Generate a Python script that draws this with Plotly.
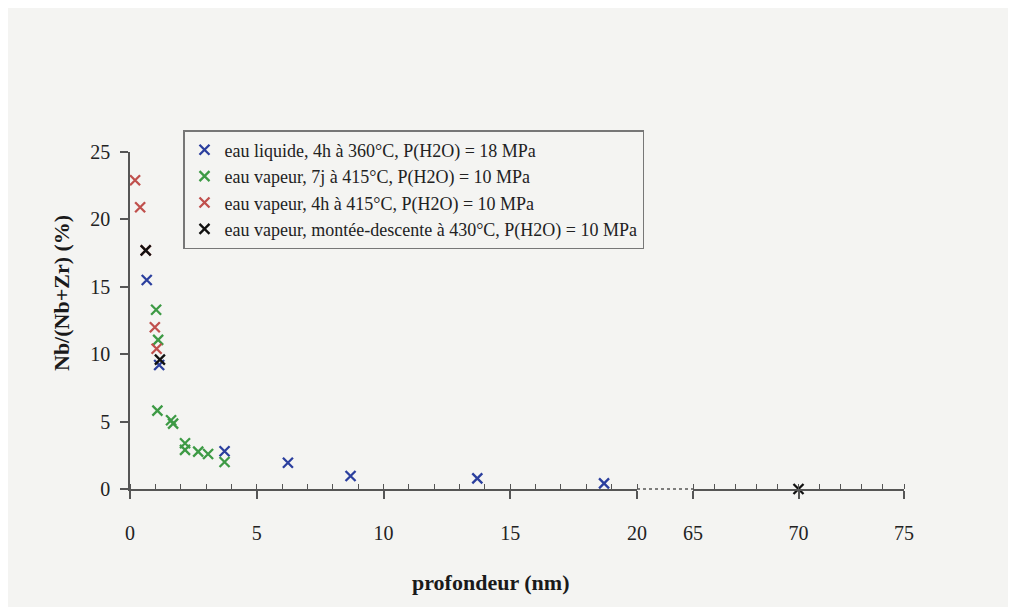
import plotly.graph_objects as go

# ---- data ----
blue_x = [0.66, 1.15, 3.73, 6.23, 8.7, 13.7, 18.7]
blue_y = [15.5, 9.2, 2.8, 1.95, 0.96, 0.79, 0.42]

green_x = [1.03, 1.11, 1.08, 1.62, 1.70, 2.17, 2.17, 2.69, 3.08, 3.73]
green_y = [13.3, 11.06, 5.81, 5.1, 4.85, 3.39, 2.9, 2.77, 2.6, 2.0]

red_x = [0.2, 0.4, 0.62, 0.98, 1.05]
red_y = [22.9, 20.9, 17.7, 12.0, 10.4]

black_x = [0.62, 1.18]
black_y = [17.7, 9.6]
black_far_x = [70]
black_far_y = [0.0]

labels = [
    "eau liquide, 4h à 360°C, P(H2O) = 18 MPa",
    "eau vapeur, 7j à 415°C, P(H2O) = 10 MPa",
    "eau vapeur, 4h à 415°C, P(H2O) = 10 MPa",
    "eau vapeur, montée-descente à 430°C, P(H2O) = 10 MPa",
]
colors = ["#2b3f9e", "#3d9a45", "#c0504d", "#111111"]

x_range_1 = [0, 20]
x_range_2 = [65, 75]
y_range = [0, 25]

FONT = "Liberation Serif"
BG = "#f4f4f2"
AX = "#555555"

OFF = 8  # page body offset
W, H = 1000, 599
L, R, T, B = 130 - OFF, 1016 - 904 - OFF, 152 - OFF, H - (489 - OFF)
pw = W - L - R
ph = H - T - B

def px_x(page_x):
    return (page_x - OFF - L) / pw

def px_y(page_y):
    return (H - B - (page_y - OFF)) / ph

fig = go.Figure()

for xs, ys, lab, c in [(blue_x, blue_y, labels[0], colors[0]),
                       (green_x, green_y, labels[1], colors[1]),
                       (red_x, red_y, labels[2], colors[2]),
                       (black_x, black_y, labels[3], colors[3])]:
    fig.add_trace(go.Scatter(x=xs, y=ys, mode="markers", name=lab,
                             marker=dict(color=c, symbol="x-thin", size=10,
                                         line=dict(width=2.3, color=c)),
                             cliponaxis=False, xaxis="x", yaxis="y"))

fig.add_trace(go.Scatter(x=black_far_x, y=black_far_y, mode="markers", showlegend=False,
                         marker=dict(color=colors[3], symbol="x-thin", size=10,
                                     line=dict(width=2.3, color=colors[3])),
                         cliponaxis=False, xaxis="x2", yaxis="y"))

d1 = px_x(637)
d2 = px_x(693)

common_x = dict(showline=True, linecolor=AX, linewidth=1.5, showgrid=False, zeroline=False,
                ticks="outside", ticklen=8, tickwidth=1.5, tickcolor=AX,
                tickfont=dict(family=FONT, size=20, color="#222"),
                ticklabelstandoff=17,
                minor=dict(ticks="inside", ticklen=5, tickwidth=1.2, tickcolor=AX, dtick=1, showgrid=False))

fig.update_layout(
    width=W, height=H,
    margin=dict(l=L, r=R, t=T, b=B),
    paper_bgcolor=BG, plot_bgcolor=BG,
    xaxis=dict(domain=[0, d1], range=x_range_1, dtick=5, tick0=0, anchor="y", **common_x),
    xaxis2=dict(domain=[d2, 1], range=x_range_2, dtick=5, tick0=65, anchor="y", **common_x),
    yaxis=dict(range=y_range, dtick=5, showline=True, linecolor=AX, linewidth=1.5,
               showgrid=False, zeroline=False, ticks="outside", ticklen=8, tickwidth=1.5,
               tickcolor=AX, tickfont=dict(family=FONT, size=20, color="#222"),
               ticklabelstandoff=6),
    showlegend=True,
    legend=dict(x=px_x(183), y=px_y(130), xanchor="left", yanchor="top",
                bgcolor=BG, bordercolor="#777", borderwidth=1.5,
                font=dict(family=FONT, size=18, color="#222"),
                itemwidth=30, tracegroupgap=0),
    annotations=[
        dict(text="<b>profondeur (nm)</b>", x=px_x(490), y=px_y(582),
             xref="paper", yref="paper", xanchor="center", yanchor="middle", showarrow=False,
             font=dict(family=FONT, size=22, color="#1a1a1a")),
        dict(text="<b>Nb/(Nb+Zr) (%)</b>", x=px_x(61), y=px_y(293),
             xref="paper", yref="paper", xanchor="center", yanchor="middle",
             showarrow=False, textangle=-90,
             font=dict(family=FONT, size=22, color="#1a1a1a")),
    ],
    shapes=[dict(type="line", xref="paper", yref="paper", x0=d1, x1=d2, y0=0, y1=0,
                 line=dict(color=AX, width=1.5, dash="dot"))],
)

fig.write_html("out.html")
